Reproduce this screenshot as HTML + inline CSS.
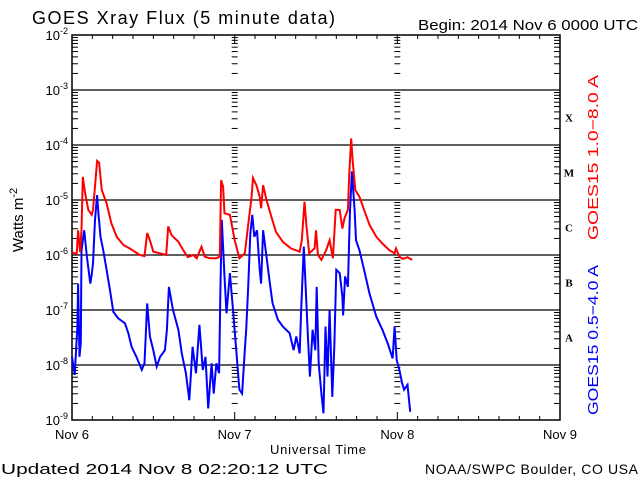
<!DOCTYPE html>
<html><head><meta charset="utf-8"><style>
html,body{margin:0;padding:0;background:#fff}
svg{display:block;font-family:"Liberation Sans","DejaVu Sans",sans-serif}
</style></head><body>
<svg id="chart" width="640" height="480" viewBox="0 0 640 480" xmlns="http://www.w3.org/2000/svg">
<text x="32" y="24" font-size="18" textLength="303" lengthAdjust="spacing">GOES Xray Flux (5 minute data)</text>
<text x="418" y="30" font-size="15" textLength="220" lengthAdjust="spacingAndGlyphs">Begin:  2014 Nov 6 0000 UTC</text>
<text transform="translate(23,220) rotate(-90)" font-size="15" text-anchor="middle">Watts m<tspan dy="-6" font-size="11">-2</tspan></text>
<text x="270" y="454" font-size="13" textLength="96" lengthAdjust="spacing">Universal Time</text>
<text x="1" y="474" font-size="15" textLength="327" lengthAdjust="spacingAndGlyphs">Updated 2014 Nov  8 02:20:12 UTC</text>
<text x="425" y="474" font-size="14" textLength="213" lengthAdjust="spacing">NOAA/SWPC Boulder, CO USA</text>
<text transform="translate(598,240) rotate(-90)" font-size="15" fill="#ff0000" textLength="165" lengthAdjust="spacingAndGlyphs">GOES15 1.0−8.0 A</text>
<text transform="translate(598,415) rotate(-90)" font-size="15" fill="#0000ff" textLength="150" lengthAdjust="spacingAndGlyphs">GOES15 0.5−4.0 A</text>
<g id="axes"></g>
<g id="series"></g>
</svg>
<script>
const dayLabels = ["Nov 6","Nov 7","Nov 8","Nov 9"];
const yExponents = [-2,-3,-4,-5,-6,-7,-8,-9];
const flareClasses = ["X","M","C","B","A"];
const redHours = [0,0.7,0.9,1.2,1.4,1.6,1.9,2.4,2.9,3.1,3.5,3.7,4.0,4.4,5.1,5.8,6.6,7.6,8.5,10.0,10.7,11.1,11.5,12.0,13.0,13.9,14.2,14.7,15.7,16.4,17.1,17.9,18.4,19.1,19.6,20.3,21.3,21.8,22.0,22.3,22.5,23.0,23.3,24.0,24.7,25.5,26.0,26.5,26.7,27.2,27.7,27.9,28.2,28.7,29.4,30.1,31.1,32.3,33.6,33.9,34.3,34.6,35.0,35.8,36.0,36.3,36.8,37.5,38.0,38.5,38.9,39.5,39.9,40.2,40.7,40.9,41.2,41.4,41.8,42.4,43.1,43.9,44.9,45.8,46.8,47.6,47.8,48.3,48.8,49.5,50.2];
const redLog = [-5.95,-5.98,-5.55,-5.95,-5.55,-4.58,-4.85,-5.18,-5.27,-5.18,-4.6,-4.29,-4.32,-4.82,-5.06,-5.42,-5.67,-5.82,-5.88,-6.0,-6.02,-5.6,-5.73,-5.94,-5.97,-6.0,-5.48,-5.64,-5.76,-5.91,-6.04,-6.0,-6.06,-5.85,-6.03,-6.06,-6.06,-6.03,-4.64,-4.76,-5.24,-5.26,-5.27,-5.73,-6.06,-5.97,-5.45,-4.94,-4.6,-4.73,-4.94,-5.15,-4.73,-5.0,-5.3,-5.58,-5.76,-5.88,-5.94,-5.73,-5.03,-5.48,-5.97,-5.88,-5.55,-6.0,-6.09,-5.91,-5.73,-6.06,-5.18,-5.18,-5.52,-5.33,-5.18,-4.55,-3.88,-4.27,-4.82,-4.94,-5.18,-5.45,-5.67,-5.79,-5.91,-5.97,-5.88,-6.03,-6.07,-6.04,-6.09];
const blueHours = [0,0.4,0.8,0.9,1.1,1.3,1.4,1.8,2.2,2.7,2.9,3.1,3.4,3.7,3.9,4.2,4.6,5.1,5.6,6.1,6.8,7.8,8.3,8.8,9.5,10.3,10.7,11.1,11.5,12.0,12.5,13.0,13.7,14.0,14.3,14.9,15.7,16.2,16.8,17.3,17.8,18.3,18.8,19.3,19.7,20.1,20.6,20.9,21.3,21.7,21.9,22.1,22.5,22.8,23.3,23.8,24.7,25.1,25.5,25.7,26.0,26.3,26.6,26.9,27.3,27.7,27.9,28.2,28.7,29.2,29.6,30.4,31.1,32.1,32.7,33.1,33.6,33.8,34.2,34.5,34.8,35.1,35.5,35.9,36.1,36.4,36.8,37.1,37.4,37.7,38.0,38.4,38.7,39.0,39.5,39.9,40.0,40.3,40.7,41.0,41.3,41.7,41.9,42.4,43.1,43.9,44.9,45.8,46.6,47.3,47.6,47.9,48.3,48.7,49.0,49.5,49.9];
const blueLog = [-7.85,-8.18,-7.3,-6.52,-7.85,-7.6,-5.91,-5.55,-6.03,-6.52,-6.36,-6.15,-5.36,-4.91,-5.24,-5.67,-5.91,-6.27,-6.64,-7.03,-7.15,-7.24,-7.42,-7.67,-7.85,-8.09,-7.97,-6.88,-7.48,-7.73,-8.03,-7.85,-7.73,-7.36,-6.58,-7.0,-7.36,-7.79,-8.15,-8.64,-7.67,-8.15,-7.27,-8.09,-7.85,-8.79,-7.97,-8.52,-7.97,-8.15,-6.64,-5.36,-6.39,-7.06,-6.33,-7.06,-8.45,-8.52,-7.73,-7.36,-6.58,-5.61,-5.27,-5.67,-5.55,-6.27,-6.52,-5.55,-6.03,-6.52,-6.88,-7.18,-7.3,-7.42,-7.73,-7.48,-7.79,-7.03,-5.85,-6.64,-7.48,-8.21,-7.36,-7.73,-6.58,-7.97,-8.52,-8.88,-7.3,-8.21,-7.0,-8.58,-7.67,-6.27,-6.33,-6.76,-7.1,-6.39,-6.58,-5.24,-4.48,-5.18,-5.73,-5.91,-6.27,-6.7,-7.12,-7.36,-7.61,-7.88,-7.3,-7.91,-8.09,-8.33,-8.45,-8.36,-8.85];

const NS="http://www.w3.org/2000/svg";
const L=72,R=560,T=35,B=420;
const xs=h=>L+h*(R-L)/72;
const ys=v=>T+(-2-v)*(B-T)/7;
const axes=document.getElementById('axes'), series=document.getElementById('series');
function mk(tag,attrs,parent){const e=document.createElementNS(NS,tag);for(const k in attrs)e.setAttribute(k,attrs[k]);parent.appendChild(e);return e;}
const fr=mk('rect',{x:L,y:T,width:R-L,height:B-T,fill:'none',stroke:'#000','stroke-width':1.5},axes);


yExponents.forEach((e,i)=>{
  const y=ys(e);
  if(e>-9&&e<-2){const g=mk('line',{x1:L,x2:R,y1:y,y2:y,stroke:'#000','stroke-width':1.3},axes);
    
    }
  const t=mk('text',{x:L-4,y:y+5,'font-size':13,'text-anchor':'end'},axes);
  
  
  t.innerHTML='10<tspan dy="-6" font-size="9">'+e+'</tspan>';
  if(e>-9){for(let m=2;m<=9;m++){const yy=ys(e-1+Math.log10(m));
    [[L,L+6],[R-6,R],[xs(24)-3,xs(24)+3],[xs(48)-3,xs(48)+3]].forEach(p=>{
      mk('line',{x1:p[0],x2:p[1],y1:yy,y2:yy,stroke:'#000','stroke-width':1},axes);});}}
});
[24,48].forEach(h=>{for(let e=-2;e>=-9;e--){const y=ys(e);mk('line',{x1:xs(h)-4,x2:xs(h)+4,y1:y,y2:y,stroke:'#000','stroke-width':1},axes);}});
for(let h=0;h<=72;h+=3){const x=xs(h);const len=h%24===0?8:4;
  mk('line',{x1:x,x2:x,y1:T,y2:T+len,stroke:'#000','stroke-width':1},axes);
  mk('line',{x1:x,x2:x,y1:B-len,y2:B,stroke:'#000','stroke-width':1},axes);}
dayLabels.forEach((d,i)=>{const t=mk('text',{x:xs(i*24),y:439,'font-size':13,'text-anchor':'middle'},axes);
  
  
  t.textContent=d;});
flareClasses.forEach((c,i)=>{const t=mk('text',{x:569,y:ys(-3.5-i)+4,'font-size':11,'font-weight':'bold','font-family':'Liberation Serif, serif','text-anchor':'middle'},axes);
  
  
  t.textContent=c;});
function line(hs,vs,color,name){
  let d='';hs.forEach((h,i)=>{d+=(i?'L':'M')+xs(h).toFixed(1)+' '+ys(vs[i]).toFixed(1);});
  const p=mk('path',{d:d,fill:'none',stroke:color,'stroke-width':2,'stroke-linejoin':'miter'},series);
  
  
}
line(blueHours,blueLog,'#0000ff','series-short-channel');
line(redHours,redLog,'#ff0000','series-long-channel');
</script>
</body></html>
